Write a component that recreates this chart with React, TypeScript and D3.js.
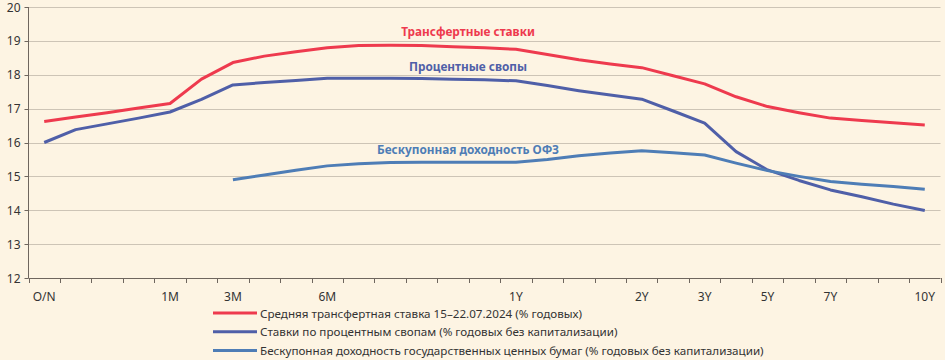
import React from "react";
import * as d3 from "d3";

const categories: string[] = [
  "O/N", "c1", "c2", "c3", "1M", "c5", "3M", "c7", "c8", "6M", "c10", "c11", "c12", "c13", "c14",
  "1Y", "c16", "c17", "c18", "2Y", "c20", "3Y", "c22", "5Y", "c24", "7Y", "c26", "c27", "10Y",
];
const tickLabels: string[] = ["O/N", "1M", "3M", "6M", "1Y", "2Y", "3Y", "5Y", "7Y", "10Y"];

const transferRates: (number | null)[] = [
  16.62, 16.75, 16.88, 17.02, 17.15, 17.87, 18.36, 18.55, 18.68, 18.8, 18.86, 18.87, 18.86, 18.83, 18.8,
  18.75, 18.6, 18.44, 18.32, 18.21, 17.97, 17.73, 17.35, 17.06, 16.88, 16.72, 16.65, 16.58, 16.52,
];
const swapRates: (number | null)[] = [
  16.0, 16.38, 16.55, 16.72, 16.9, 17.27, 17.7, 17.77, 17.83, 17.9, 17.9, 17.9, 17.89, 17.87, 17.85,
  17.82, 17.68, 17.53, 17.4, 17.28, 16.93, 16.57, 15.73, 15.19, 14.88, 14.6, 14.4, 14.18, 13.99,
];
const ofzYields: (number | null)[] = [
  null, null, null, null, null, null, 14.9, 15.04, 15.18, 15.31, 15.37, 15.41, 15.42, 15.42, 15.42,
  15.42, 15.5, 15.61, 15.69, 15.76, 15.7, 15.63, 15.39, 15.17, 15.0, 14.85, 14.77, 14.7, 14.62,
];
const yTicks: number[] = [12, 13, 14, 15, 16, 17, 18, 19, 20];

const seriesNames: string[] = [
  "Средняя трансфертная ставка 15–22.07.2024 (% годовых)",
  "Ставки по процентным свопам (% годовых без капитализации)",
  "Бескупонная доходность государственных ценных бумаг (% годовых без капитализации)",
];
const lineLabels: string[] = ["Трансфертные ставки", "Процентные свопы", "Бескупонная доходность ОФЗ"];
const lineLabelValues: number[] = [19.15, 18.1, 15.65];
const colors: string[] = ["#ee3a4e", "#4f5fa8", "#4e7db6"];

const W = 945;
const H = 360;
const left = 28.5;
const right = 940.5;
const top = 7;
const bottom = 278;
const font = "'Noto Sans', 'DejaVu Sans', sans-serif";

export default function App() {
  const x = d3.scaleBand<string>().domain(categories).range([left, right]).paddingInner(0).paddingOuter(0);
  const y = d3.scaleLinear().domain([12, 20]).range([bottom, top]);
  const cx = (i: number) => (x(categories[i]) as number) + x.bandwidth() / 2;

  const line = d3
    .line<number | null>()
    .defined((d) => d !== null)
    .x((_, i) => cx(i))
    .y((d) => y(d as number));

  const allSeries = [transferRates, swapRates, ofzYields];
  const boundaries = d3.range(categories.length + 1).map((i) => left + i * x.bandwidth());

  return (
    <svg width={W} height={H} style={{ position: "absolute", left: 0, top: 0, background: "#fdf4e3" }}>
      <rect x={0} y={0} width={W} height={H} fill="#fdf4e3" />
      {yTicks.filter((t) => t > 12).map((t) => (
        <line key={t} x1={left} x2={right} y1={Math.round(y(t)) + 0.5} y2={Math.round(y(t)) + 0.5} stroke="#cdc4b6" strokeWidth={1.2} />
      ))}
      <line x1={left} x2={left} y1={top} y2={bottom} stroke="#6f665e" strokeWidth={1} />
      <line x1={left} x2={right} y1={bottom + 0.5} y2={bottom + 0.5} stroke="#6f665e" strokeWidth={1} />
      {yTicks.map((t) => (
        <g key={t}>
          <line x1={left - 4} x2={left} y1={Math.round(y(t)) + 0.5} y2={Math.round(y(t)) + 0.5} stroke="#6f665e" />
          <text x={left - 8} y={y(t) + 4.5} textAnchor="end" fontFamily={font} fontSize={12} fill="#333">
            {t}
          </text>
        </g>
      ))}
      {boundaries.map((b, i) => (
        <line key={i} x1={Math.round(b) + 0.5} x2={Math.round(b) + 0.5} y1={bottom} y2={bottom + 5} stroke="#6f665e" />
      ))}
      {categories.map((c, i) =>
        tickLabels.includes(c) ? (
          <text key={c} x={cx(i)} y={301} textAnchor="middle" fontFamily={font} fontSize={12} fill="#333">
            {c}
          </text>
        ) : null
      )}
      {allSeries.map((s, k) => (
        <path key={k} d={line(s) || ""} fill="none" stroke={colors[k]} strokeWidth={3} strokeLinejoin="round" strokeLinecap="butt" />
      ))}
      {lineLabels.map((l, k) => (
        <text key={l} x={468} y={y(lineLabelValues[k])} textAnchor="middle" fontFamily={font} fontWeight="bold" fontSize={11.8} fill={colors[k]}>
          {l}
        </text>
      ))}
      {seriesNames.map((n, k) => (
        <g key={n}>
          <line x1={213} x2={257} y1={313 + k * 18.7} y2={313 + k * 18.7} stroke={colors[k]} strokeWidth={3} />
          <text x={260} y={317.5 + k * 18.7} fontFamily={font} fontSize={11.65} fill="#333">
            {n}
          </text>
        </g>
      ))}
    </svg>
  );
}
